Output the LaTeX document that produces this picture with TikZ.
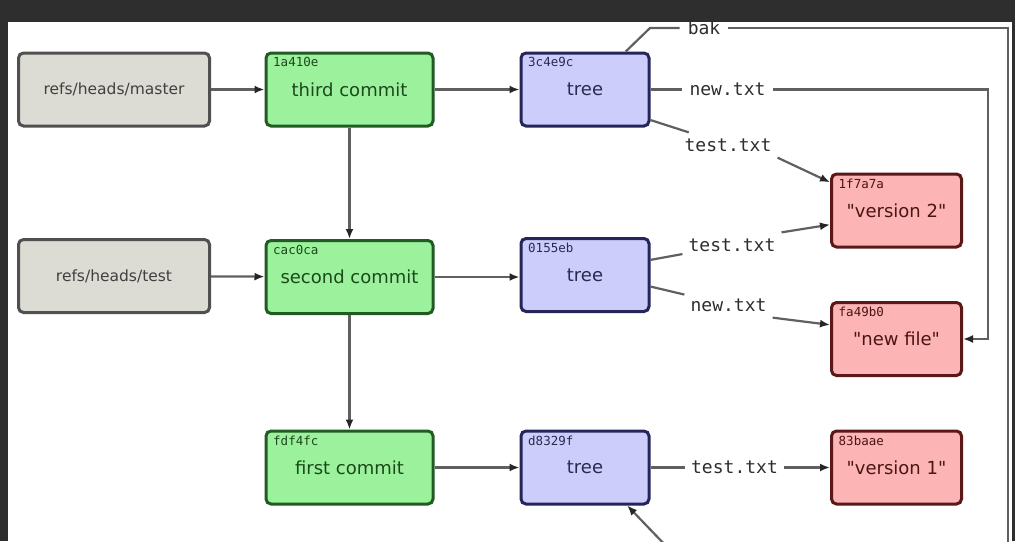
\documentclass[tikz,border=0pt]{standalone}
\usepackage{fontspec}
\setmainfont{DejaVu Sans}[Ligatures=TeXOff]
\newfontfamily\monofont{DejaVu Sans Mono}
\usetikzlibrary{arrows.meta}
\definecolor{frameC}{HTML}{2E2E2E}
\definecolor{refFill}{HTML}{DCDCD4}
\definecolor{refDraw}{HTML}{505050}
\definecolor{refText}{HTML}{404040}
\definecolor{cFill}{HTML}{9CF29C}
\definecolor{cDraw}{HTML}{215A22}
\definecolor{cText}{HTML}{1C481C}
\definecolor{tFill}{HTML}{CDCDFC}
\definecolor{tDraw}{HTML}{25255A}
\definecolor{tText}{HTML}{2A2A50}
\definecolor{bFill}{HTML}{FCB4B4}
\definecolor{bDraw}{HTML}{5A1818}
\definecolor{bText}{HTML}{4A1515}
\definecolor{lineC}{HTML}{606060}
\definecolor{lblText}{HTML}{2E2E2E}
\tikzset{
  box/.style={draw, rounded corners=5pt, line width=3pt, minimum height=73pt, inner sep=0pt},
  refbox/.style={box, fill=refFill, draw=refDraw, minimum width=191pt, text=refText, font=\fontsize{15.5}{18}\selectfont},
  commitbox/.style={box, fill=cFill, draw=cDraw, minimum width=167pt, text=cText, font=\fontsize{18}{20}\selectfont},
  treebox/.style={box, fill=tFill, draw=tDraw, minimum width=128pt, text=tText, font=\fontsize{18}{20}\selectfont},
  blobbox/.style={box, fill=bFill, draw=bDraw, minimum width=130pt, text=bText, font=\fontsize{18}{20}\selectfont},
  hash/.style={anchor=north west, inner sep=0pt, font=\monofont\fontsize{12.5}{12.5}\selectfont},
  lbl/.style={inner sep=6pt, text=lblText, font=\monofont\fontsize{18}{20}\selectfont},
  conn/.style={draw=lineC, line width=2.2pt},
  arr/.style={conn, -{Latex[length=10pt,width=8pt,color=black!85]}}
}
\begin{document}
\begin{tikzpicture}[x=1pt,y=-1pt]
\fill[frameC] (0,0) rectangle (1015,541);
\fill[white] (8,22) rectangle (1012,541);
\path[use as bounding box] (0,0) rectangle (1015,541);

% boxes
\node[refbox] (master) at (114,89.5) {refs/heads/master};
\node[commitbox] (c3) at (349.5,89.5) {third commit};
\node[treebox] (t3) at (585,89.5) {tree};
\node[refbox] (test) at (114,276) {refs/heads/test};
\node[commitbox] (c2) at (349.5,277) {second commit};
\node[treebox] (t2) at (585,275) {tree};
\node[commitbox] (c1) at (349.5,467.5) {first commit};
\node[treebox] (t1) at (585,467.5) {tree};
\node[blobbox] (v2) at (896.5,210.5) {"version 2"};
\node[blobbox] (nf) at (896.5,339) {"new file"};
\node[blobbox] (v1) at (896.5,467.5) {"version 1"};

% hashes
\node[hash, text=cText] (h3) at ([shift={(8.5,6)}]c3.north west) {1a410e};
\node[hash, text=cText] (h2) at ([shift={(8.5,6)}]c2.north west) {cac0ca};
\node[hash, text=cText] (h1) at ([shift={(8.5,6)}]c1.north west) {fdf4fc};
\node[hash, text=tText] (ht3) at ([shift={(8.5,6)}]t3.north west) {3c4e9c};
\node[hash, text=tText] (ht2) at ([shift={(8.5,6)}]t2.north west) {0155eb};
\node[hash, text=tText] (ht1) at ([shift={(8.5,6)}]t1.north west) {d8329f};
\node[hash, text=bText] (hv2) at ([shift={(8.5,6)}]v2.north west) {1f7a7a};
\node[hash, text=bText] (hnf) at ([shift={(8.5,6)}]nf.north west) {fa49b0};
\node[hash, text=bText] (hv1) at ([shift={(8.5,6)}]v1.north west) {83baae};

% labels
\node[lbl, inner xsep=8pt] (bak) at (704,28) {bak};
\node[lbl, inner xsep=7.5pt] (n3) at (727.5,89.5) {new.txt};
\node[lbl] (tt3) at (728,145) {test.txt};
\node[lbl] (tt2) at (732,245) {test.txt};
\node[lbl] (nt2) at (728.5,305) {new.txt};
\node[lbl] (l1) at (734.5,467.5) {test.txt};

% coordinates
\coordinate (bk1) at (650,28);
\coordinate (bk2) at (1008,28);
\coordinate (bk3) at (1008,545);
\coordinate (bk4) at (668,548);
\coordinate (nw1) at (988,89.5);

% connectors
\draw[arr] (master) -- (c3);
\draw[arr] (c3) -- (t3);
\draw[arr] (test) -- (c2);
\draw[arr] (c2.east) -- (t2.west |- c2.east);
\draw[arr] (c1) -- (t1);
\draw[arr] (c3) -- (c2);
\draw[arr] (c2) -- (c1);

\draw[conn] (t3.43) -- (bk1) -- (bak);
\draw[conn] (bak) -- (bk2) -- (bk3);
\draw[arr] (bk4) -- (t1.-42);

\draw[conn] (t3) -- (n3);
\draw[arr] (n3) -- (nw1) |- (nf.east);

\draw[conn] (t3.-25) -- (tt3);
\draw[arr] (tt3.south east) -- (v2.157);

\draw[conn] (t2.13) -- (tt2);
\draw[arr] (tt2.north east) -- (v2.192);

\draw[conn] (t2.-10) -- (nt2);
\draw[arr] (nt2.south east) -- (nf.168);

\draw[conn] (t1) -- (l1);
\draw[arr] (l1) -- (v1);
\end{tikzpicture}
\end{document}
